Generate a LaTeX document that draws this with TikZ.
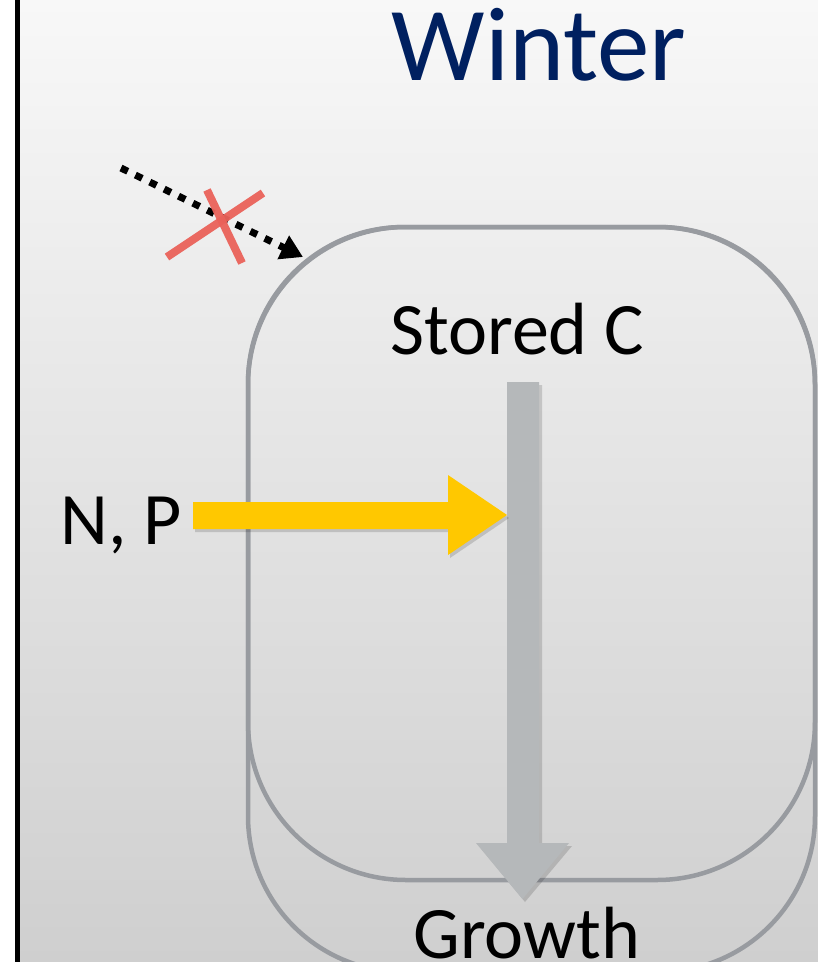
\documentclass[tikz,border=0pt]{standalone}
\usepackage{fontspec}
\setmainfont{Carlito}
\usetikzlibrary{arrows.meta}
\definecolor{navy}{RGB}{0,32,96}
\definecolor{boxline}{RGB}{152,155,160}
\definecolor{npyellow}{RGB}{255,200,0}
\definecolor{cgray}{RGB}{181,184,186}
\definecolor{xred}{RGB}{234,98,90}
\definecolor{bgtop}{RGB}{248,248,248}
\definecolor{bgbot}{RGB}{207,207,207}
\tikzset{
  lbl/.style={anchor=base, inner sep=0pt, font=\fontsize{74}{74}\selectfont},
  boxstyle/.style={draw=boxline, line width=4.5pt},
  shadowfill/.style={fill=black, opacity=0.15},
  crossline/.style={draw=xred, line width=8pt, opacity=0.95},
}
\begin{document}
\begin{tikzpicture}[x=1pt,y=-1pt]
\useasboundingbox (0,0) rectangle (818,962);
\fill[white] (0,0) rectangle (818,962);
\shade[top color=bgtop, bottom color=bgbot] (20,0) rectangle (818,962);
\draw[line width=5pt] (17.5,0) -- (17.5,962);

% boxes
\draw[boxstyle, rounded corners=156pt] (248,227) rectangle (815,972);
\draw[boxstyle, rounded corners=158pt] (248,227) rectangle (815,880);

% labels
\node[lbl, font=\fontsize{105}{105}\selectfont, text=navy] (winter) at (539,80) {Winter};
\node[lbl] (stored) at (517,354) {Stored C};
\node[lbl] (growth) at (527,958) {Growth};
\node[lbl] (np) at (121,544) {N, P};

% gray arrow (stored C -> growth)
\fill[shadowfill] (509,385) -- (542,385) -- (542,846) -- (572,846) -- (525,902) -- (479,846) -- (509,846) -- cycle;
\fill[cgray] (507,382) -- (539,382) -- (539,843) -- (569,843) -- (522.5,899) -- (476,843) -- (507,843) -- cycle;

% yellow arrow (N, P -> flow)
\fill[shadowfill] (195,505) -- (450,505) -- (450,478) -- (509,518) -- (450,558) -- (450,532) -- (195,532) -- cycle;
\fill[npyellow] (193,502) -- (448,502) -- (448,475) -- (507,515) -- (448,555) -- (448,529) -- (193,529) -- cycle;

% dotted arrow
\coordinate (dstart) at (121,168);
\coordinate (dend) at (303,257);
\draw[line width=7pt, dash pattern=on 7.5pt off 8.5pt, -{Triangle[length=22pt,width=25pt]}] (dstart) -- (dend);

% red cross
\draw[crossline] (167,257) -- (263,193);
\draw[crossline] (207,190) -- (242,263);
\end{tikzpicture}
\end{document}
